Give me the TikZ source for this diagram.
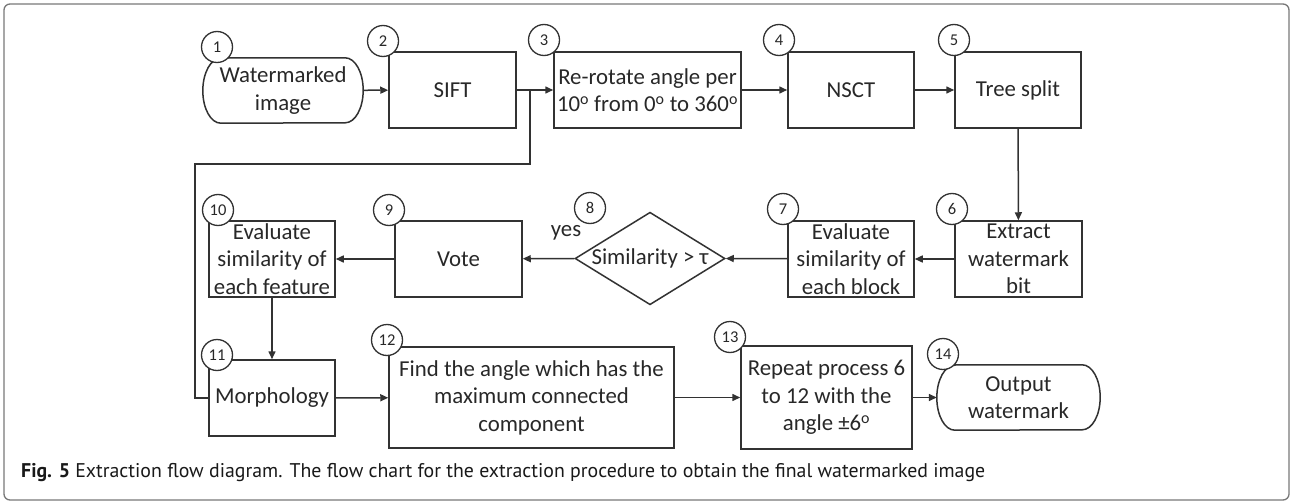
\documentclass[tikz,border=0pt]{standalone}
\usepackage{graphicx}
\usepackage{fontspec}
\setmainfont{Carlito}
\newfontfamily\capfont{PT Sans}
\usetikzlibrary{arrows.meta,shapes.geometric}
\definecolor{linec}{RGB}{50,50,50}
\definecolor{txtc}{RGB}{40,40,40}
\definecolor{framec}{RGB}{120,120,120}

\tikzset{
  boxfont/.style={font=\fontsize{22.8}{27.5}\selectfont},
  stepbox/.style={draw=linec, line width=1.5pt, rectangle, inner sep=0pt,
    align=center, text=txtc, boxfont, minimum height=76pt},
  termtext/.style={inner sep=0pt, align=center, text=txtc, boxfont,
    minimum width=160pt, minimum height=65pt},
  decision/.style={diamond, draw=linec, line width=1.5pt, inner sep=0pt,
    shape aspect=1.6, minimum width=150pt, minimum height=91pt,
    text=txtc, boxfont},
  num/.style={circle, draw=linec, line width=1.3pt, fill=white,
    minimum size=31pt, inner sep=0pt, text=txtc,
    font=\fontsize{16.5}{19}\selectfont},
  flow/.style={draw=linec, line width=1.5pt,
    -{Triangle[length=8pt,width=7pt]}},
  link/.style={draw=linec, line width=1.5pt},
}

% stadium outline drawn round a terminal node
\newcommand\stadium[1]{%
  \draw[linec, line width=1.5pt]
    ([xshift=18pt]#1.north west) -- ([xshift=-18pt]#1.north east)
    arc[start angle=90, end angle=-90, x radius=18pt, y radius=32.5pt]
    -- ([xshift=18pt]#1.south west)
    arc[start angle=270, end angle=90, x radius=18pt, y radius=32.5pt]
    -- cycle;}

\begin{document}
\begin{tikzpicture}[x=1pt,y=1pt]
\useasboundingbox (0,0) rectangle (1291,-503);
\fill[white] (0,0) rectangle (1291,-503);
\draw[framec, line width=1.3pt, rounded corners=6pt] (4,-4) rectangle (1289,-500);

% ---- first row ----
\node[termtext] (t1) at (283,-90.5) {Watermarked\\image};
\stadium{t1}
\node[stepbox, minimum width=127pt] (b2) at (452.5,-90) {SIFT};
\node[stepbox, minimum width=187pt] (b3) at (647.5,-90)
  {Re-rotate angle per\\10\textsuperscript{o} from 0\textsuperscript{o} to 360\textsuperscript{o}};
\node[stepbox, minimum width=126pt] (b4) at (851,-90) {NSCT};
\node[stepbox, minimum width=126pt] (b5) at (1018,-90) {Tree split};

% ---- second row ----
\node[stepbox, minimum width=127pt] (b6) at (1018.5,-259) {Extract\\watermark\\bit};
\node[stepbox, minimum width=126pt] (b7) at (851,-259) {Evaluate\\similarity of\\each block};
\node[decision] (d8) at (650,-258.5) {Similarity > τ};
\node[stepbox, minimum width=127pt] (b9) at (458.5,-259) {Vote};
\node[stepbox, minimum width=126pt] (b10) at (272,-259) {Evaluate\\similarity of\\each feature};

% ---- third row ----
\node[stepbox, minimum width=126pt] (b11) at (272,-398) {Morphology};
\node[stepbox, minimum width=285pt, minimum height=101pt] (b12) at (531.5,-397.5)
  {Find the angle which has the\\maximum connected\\component};
\node[stepbox, minimum width=171pt, minimum height=103pt] (b13) at (826.5,-397.5)
  {Repeat process 6\\to 12 with the\\angle ±6\textsuperscript{o}};
\node[termtext, minimum width=163pt] (t14) at (1018.5,-397.5) {Output\\watermark};
\stadium{t14}

% ---- connectors ----
\coordinate (split) at (530,-90);
\coordinate (loopa) at (530,-164);
\coordinate (loopb) at (195,-164);
\coordinate (loopc) at (195,-398);

\draw[flow] (t1) -- (b2);
\draw[flow] (b2) -- (b3);
\draw[link] (split) -- (loopa) -- (loopb) -- (loopc) -- (b11.west);
\draw[flow] (b3) -- (b4);
\draw[flow] (b4) -- (b5);
\draw[flow] (b5) -- (b6);
\draw[flow] (b6) -- (b7);
\draw[flow] (b7) -- (d8.east);
\draw[flow] (d8.west) -- (b9);
\draw[flow] (b9) -- (b10);
\draw[flow] (b10) -- (b11);
\draw[flow] (b11) -- (b12);
\draw[flow] (b12) -- (b13);
\draw[flow] (b13) -- (t14.west);

\node[text=txtc, boxfont, inner sep=0pt] (yes) at (566,-233) {yes};

% ---- step numbers ----
\node[num] (n1) at (217,-47) {1};
\node[num] (n2) at (383,-41) {2};
\node[num] (n3) at (544,-40) {3};
\node[num] (n4) at (779,-40) {4};
\node[num] (n5) at (954,-40) {5};
\node[num] (n6) at (952,-209) {6};
\node[num] (n7) at (783,-209) {7};
\node[num] (n8) at (590,-208) {8};
\node[num] (n9) at (389,-210) {9};
\node[num] (n10) at (218,-210) {10};
\node[num] (n11) at (217,-355) {11};
\node[num] (n12) at (387,-340) {12};
\node[num] (n13) at (730,-337) {13};
\node[num] (n14) at (943,-354) {14};

% ---- caption ----
\node[anchor=base west, inner sep=0pt, text=black!90] (cap) at (21,-477)
  {\resizebox{964pt}{!}{\capfont\textbf{Fig. 5} Extraction flow diagram. The flow chart for the extraction procedure to obtain the final watermarked image}};
\end{tikzpicture}
\end{document}
